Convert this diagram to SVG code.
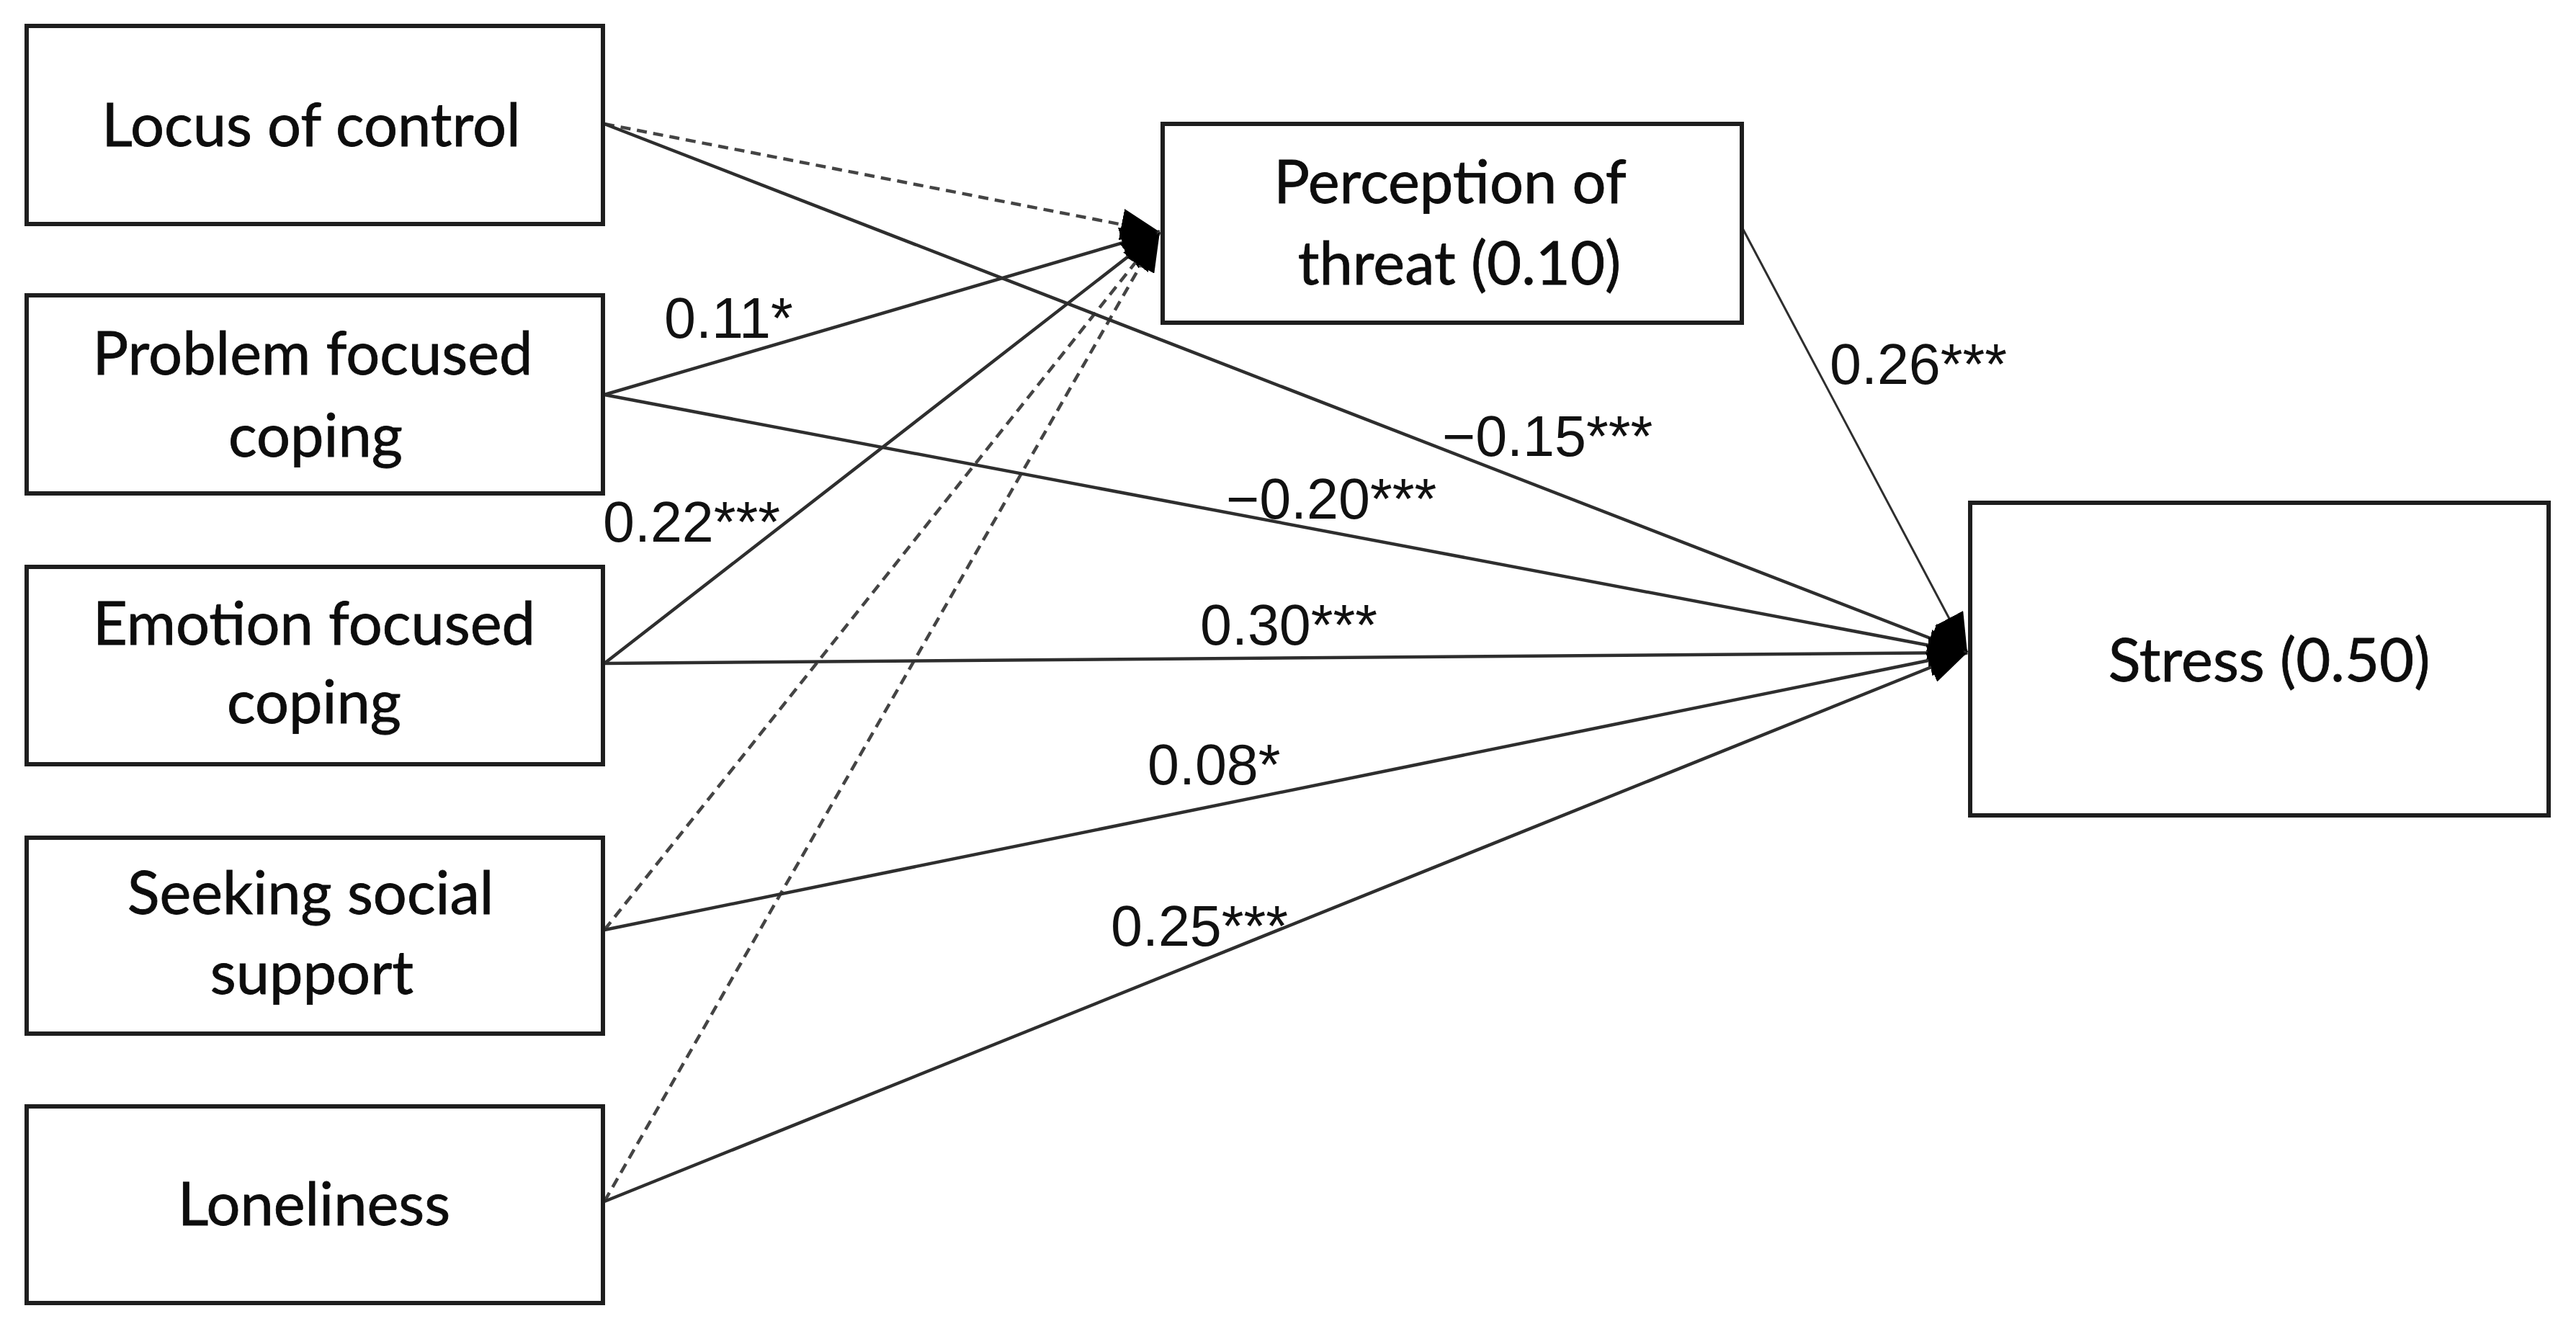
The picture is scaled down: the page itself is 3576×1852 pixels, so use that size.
<svg xmlns="http://www.w3.org/2000/svg" width="3576" height="1852" viewBox="0 0 3576 1852">
<style>
.box{fill:#fff;stroke:#1e1e1e;stroke-width:6}
.nt{font-family:Lato,"Open Sans","Liberation Sans",sans-serif;font-size:83px;fill:#0d0d0d;text-anchor:middle;stroke:#0d0d0d;stroke-width:0.8}
.lb{font-family:"Liberation Sans",Arial,sans-serif;font-size:79px;fill:#111}
.ln{fill:none;stroke:#2e2e2e;stroke-width:4.5}
.ds{stroke-dasharray:14 9;stroke:#444}
.thin{stroke-width:3}
</style>
<defs>
<marker id="ah" markerUnits="userSpaceOnUse" viewBox="0 0 54 44" markerWidth="54" markerHeight="44" refX="54" refY="22" orient="auto">
<path d="M0,0 L54,22 L0,44 z" fill="#000"/>
</marker>
</defs>
<rect width="3576" height="1852" fill="#fff"/>
<g id="connectors">
<line class="ln ds" x1="839" y1="172" x2="1610" y2="322" marker-end="url(#ah)"/>
<line class="ln" x1="839" y1="548" x2="1610" y2="322" marker-end="url(#ah)"/>
<line class="ln" x1="839" y1="921" x2="1610" y2="322" marker-end="url(#ah)"/>
<line class="ln ds" x1="839" y1="1291" x2="1610" y2="322" marker-end="url(#ah)"/>
<line class="ln ds" x1="839" y1="1668" x2="1610" y2="322" marker-end="url(#ah)"/>
<line class="ln" x1="839" y1="172" x2="2731" y2="906" marker-end="url(#ah)"/>
<line class="ln" x1="839" y1="548" x2="2731" y2="906" marker-end="url(#ah)"/>
<line class="ln" x1="839" y1="921" x2="2731" y2="906" marker-end="url(#ah)"/>
<line class="ln" x1="839" y1="1291" x2="2731" y2="906" marker-end="url(#ah)"/>
<line class="ln" x1="839" y1="1668" x2="2731" y2="906" marker-end="url(#ah)"/>
<line class="ln thin" x1="2418" y1="315" x2="2731" y2="906" marker-end="url(#ah)"/>
</g>
<g id="labels">
<text class="lb" x="922" y="469">0.11*</text>
<text class="lb" x="837" y="752">0.22***</text>
<text class="lb" x="2002" y="633">−0.15***</text>
<text class="lb" x="1702" y="720">−0.20***</text>
<text class="lb" x="2540" y="533">0.26***</text>
<text class="lb" x="1666" y="895">0.30***</text>
<text class="lb" x="1593" y="1089">0.08*</text>
<text class="lb" x="1542" y="1313">0.25***</text>
</g>
<g id="locus">
<rect class="box" x="37" y="36" width="800" height="275"/>
<text class="nt" x="432" y="203">Locus of control</text>
</g>
<g id="problem">
<rect class="box" x="37" y="410" width="800" height="275"/>
<text class="nt" x="434" y="520">Problem focused</text>
<text class="nt" x="438" y="634">coping</text>
</g>
<g id="emotion">
<rect class="box" x="37" y="787" width="800" height="274"/>
<text class="nt" x="436" y="895">Emotion focused</text>
<text class="nt" x="436" y="1004">coping</text>
</g>
<g id="seeking">
<rect class="box" x="37" y="1163" width="800" height="272"/>
<text class="nt" x="431" y="1269">Seeking social</text>
<text class="nt" x="433" y="1380">support</text>
</g>
<g id="loneliness">
<rect class="box" x="37" y="1536" width="800" height="273"/>
<text class="nt" x="436" y="1701">Loneliness</text>
</g>
<g id="perception">
<rect class="box" x="1614" y="172" width="804" height="276"/>
<text class="nt" x="2013" y="282">Perception of</text>
<text class="nt" x="2026" y="395">threat (0.10)</text>
</g>
<g id="stress">
<rect class="box" x="2735" y="698" width="803" height="434"/>
<text class="nt" x="3150" y="946">Stress (0.50)</text>
</g>
</svg>
